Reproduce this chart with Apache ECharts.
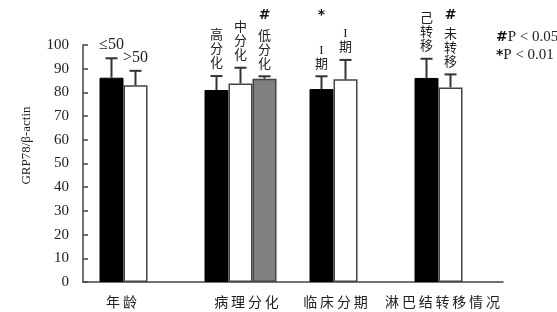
<!DOCTYPE html>
<html>
<head>
<meta charset="utf-8">
<script src="https://cdn.jsdelivr.net/npm/echarts@6/dist/echarts.min.js"></script>
<style>
  html, body { margin: 0; padding: 0; background: #fff; }
  #chart { width: 557px; height: 312px; }
</style>
</head>
<body>
<div id="chart"></div>
<script>
// 分组类别
const categories = ['年龄', '病理分化', '临床分期', '淋巴结转移情况']
// 均值 + 上误差（黑/白/灰三组柱）
const blackMean = [86.2, 81.0, 81.4, 86.1]
const blackErr = [8.2, 5.9, 5.4, 8.1]
const whiteMean = [83.0, 83.8, 85.5, 82.1]
const whiteErr = [6.1, 6.6, 8.2, 5.5]
const grayMean = [null, 85.8, null, null]
const grayErr = [null, 1.0, null, null]
// 柱顶注释与显著性标记
const blackNotes = ['≤50', '高分化', 'I期', '己转移']
const whiteNotes = ['>50', '中分化', 'I期', '未转移']
const grayNotes = [null, '低分化', null, null]
const blackSig = ['', '', '*', '']
const whiteSig = ['', '', '', '#']
const graySig = ['', '#', '', '']
const legendLines = [['#', 'P < 0.05'], ['*', 'P < 0.01']]
const yMin = 0
const yMax = 100
const yStep = 10

const BAR_W = 24
const SERIF = '"Liberation Serif", "Noto Sans CJK SC", serif'
const AXIS_COLOR = '#444'
// 类别标签水平微调（像素）
const labelShift = [-14, 6, -10, -8]

function errData (means, errs) {
  let out = []
  for (let i = 0; i < means.length; i++) {
    if (means[i] != null) out.push([i, means[i], errs[i]])
  }
  return out
}

function errRender (k, notes, sigs) {
  return function (params, api) {
    let cat = api.value(0)
    let val = api.value(1)
    let err = api.value(2)
    let base = api.coord([cat, val])
    let top = api.coord([cat, val + err])
    let x = base[0] + (k - 1) * BAR_W
    let children = [
      { type: 'line', shape: { x1: x, y1: base[1], x2: x, y2: top[1] }, style: { stroke: '#333', lineWidth: 2 } },
      { type: 'line', shape: { x1: x - 6, y1: top[1], x2: x + 6, y2: top[1] }, style: { stroke: '#333', lineWidth: 2 } }
    ]
    let note = notes[cat]
    if (note) {
      let vertical = !/\d/.test(note)
      children.push({
        type: 'text',
        x: x,
        y: top[1] - 5,
        style: {
          text: vertical ? note.split('').join('\n') : note,
          font: (vertical ? '13px ' : '16px ') + SERIF,
          lineHeight: vertical ? 14 : 16,
          fill: '#222',
          align: 'center',
          verticalAlign: 'bottom'
        }
      })
    }
    if (sigs[cat]) {
      children.push({
        type: 'text',
        x: x,
        y: api.coord([cat, yMax])[1] - 30,
        style: {
          text: sigs[cat],
          font: 'bold 14px "DejaVu Sans", sans-serif',
          fill: '#111',
          align: 'center',
          verticalAlign: 'middle'
        }
      })
    }
    return { type: 'group', children: children }
  }
}

let rich = {}
labelShift.forEach(function (s, i) {
  rich['c' + i] = {
    fontSize: 14,
    fontFamily: '"Noto Sans CJK SC", sans-serif',
    color: '#222',
    padding: s < 0 ? [0, -2 * s, 0, 0] : [0, 0, 0, 2 * s]
  }
})

let chart = echarts.init(document.getElementById('chart'), null, { renderer: 'canvas' })
let option = {
  animation: false,
  backgroundColor: '#fff',
  grid: { left: 83, right: 54, top: 45, bottom: 30 },
  xAxis: {
    type: 'category',
    data: categories,
    axisLine: { lineStyle: { color: AXIS_COLOR, width: 1.5 } },
    axisTick: { inside: true, length: 4, lineStyle: { color: AXIS_COLOR, width: 1.5 } },
    axisLabel: {
      interval: 0,
      margin: 13,
      formatter: function (v, i) {
        return '{c' + i + '|' + v.split('').join('\u2009') + '}'
      },
      rich: rich
    },
    splitLine: { show: false }
  },
  yAxis: {
    type: 'value',
    min: yMin,
    max: yMax,
    interval: yStep,
    name: 'GRP78/β-actin',
    nameLocation: 'middle',
    nameGap: 50,
    nameRotate: 90,
    nameTextStyle: { fontFamily: SERIF, fontSize: 13, color: '#222', padding: [0, 0, 0, 36] },
    axisLine: { show: true, lineStyle: { color: AXIS_COLOR, width: 1.5 } },
    axisTick: { show: true, inside: true, length: 5, lineStyle: { color: AXIS_COLOR, width: 1.5 } },
    axisLabel: { margin: 14, fontFamily: SERIF, fontSize: 15, color: '#222' },
    splitLine: { show: false }
  },
  series: [
    {
      type: 'bar', data: blackMean, barWidth: BAR_W, barGap: '0%',
      itemStyle: { color: '#000', borderColor: '#000', borderWidth: 1 }
    },
    {
      type: 'bar', data: whiteMean, barWidth: BAR_W, barGap: '0%',
      itemStyle: { color: '#fff', borderColor: '#444', borderWidth: 1.5 }
    },
    {
      type: 'bar', data: grayMean, barWidth: BAR_W, barGap: '0%',
      itemStyle: { color: '#808080', borderColor: '#444', borderWidth: 1.5 }
    },
    { type: 'custom', data: errData(blackMean, blackErr), renderItem: errRender(0, blackNotes, blackSig), z: 5 },
    { type: 'custom', data: errData(whiteMean, whiteErr), renderItem: errRender(1, whiteNotes, whiteSig), z: 5 },
    { type: 'custom', data: errData(grayMean, grayErr), renderItem: errRender(2, grayNotes, graySig), z: 5 }
  ],
  graphic: legendLines.map(function (l, i) {
    return {
      type: 'text',
      left: 496,
      top: 30 + i * 18,
      style: {
        text: '{s|' + l[0] + '}{t|' + l[1] + '}',
        rich: {
          s: { font: 'bold 14px "DejaVu Sans", sans-serif', fill: '#111' },
          t: { font: '15px ' + SERIF, fill: '#222' }
        }
      }
    }
  })
}
chart.setOption(option)
</script>
</body>
</html>
